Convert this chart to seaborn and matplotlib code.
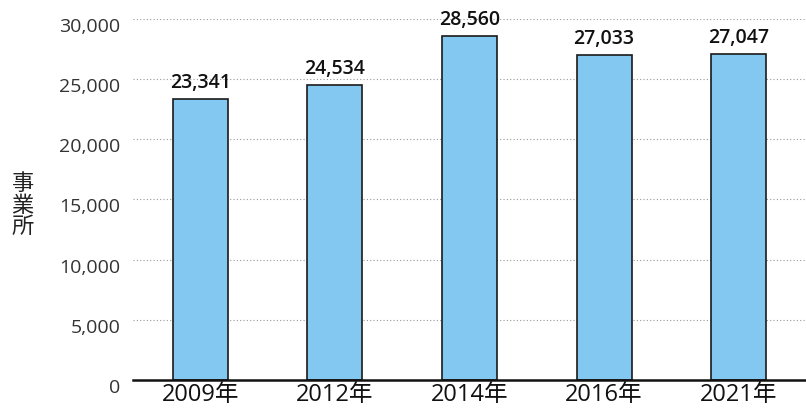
import matplotlib
matplotlib.use('Agg')
import matplotlib.pyplot as plt
import matplotlib.transforms as mtransforms
from matplotlib.ticker import FuncFormatter
import seaborn as sns
import pandas as pd

years = ['2009年', '2012年', '2014年', '2016年', '2021年']
counts = [23341, 24534, 28560, 27033, 27047]
yticks = [0, 5000, 10000, 15000, 20000, 25000, 30000]

sns.set_style('white')
plt.rcParams['font.family'] = ['Open Sans', 'Noto Sans CJK JP', 'DejaVu Sans']

df = pd.DataFrame({'year': years, 'count': counts})

fig = plt.figure(figsize=(8.06, 4.19), dpi=100)
ax = fig.add_axes([0.165, 0.093, 0.835, 0.862])

sns.barplot(data=df, x='year', y='count', color='#82C8F0', saturation=1,
            width=0.41, edgecolor='#1a1a1a', linewidth=1.2, ax=ax, zorder=3)

for i, v in enumerate(counts):
    ax.text(i, v + 500, f"{v:,}", ha='center', va='bottom', fontsize=14,
            fontweight='semibold', color='#111111')

ax.set_ylim(0, 30000)
ax.set_xlim(-0.5, 4.5)
ax.set_yticks(yticks)
ax.yaxis.set_major_formatter(FuncFormatter(lambda v, p: f"{int(v):,}"))
for y in yticks[1:]:
    ax.axhline(y, color='#999999', linestyle=(0, (1, 2)), linewidth=0.8, zorder=1)

for s in ['top', 'right', 'left']:
    ax.spines[s].set_visible(False)
ax.spines['bottom'].set_color('#111111')
ax.spines['bottom'].set_linewidth(1.8)
ax.spines['bottom'].set_zorder(4)

ax.tick_params(axis='y', length=0, labelsize=14, pad=9, colors='#333333')
ax.tick_params(axis='x', length=0, labelsize=17, pad=2, colors='#111111')
shift = mtransforms.ScaledTranslation(0, -0.06, fig.dpi_scale_trans)
for lab in ax.get_yticklabels():
    lab.set_transform(lab.get_transform() + shift)
ax.set_xlabel('')
ax.set_ylabel('')
fig.text(0.028, 0.508, '事\n業\n所', ha='center', va='center', fontsize=16,
         linespacing=1.05, color='#222222')

fig.savefig('out.png', dpi=100)
